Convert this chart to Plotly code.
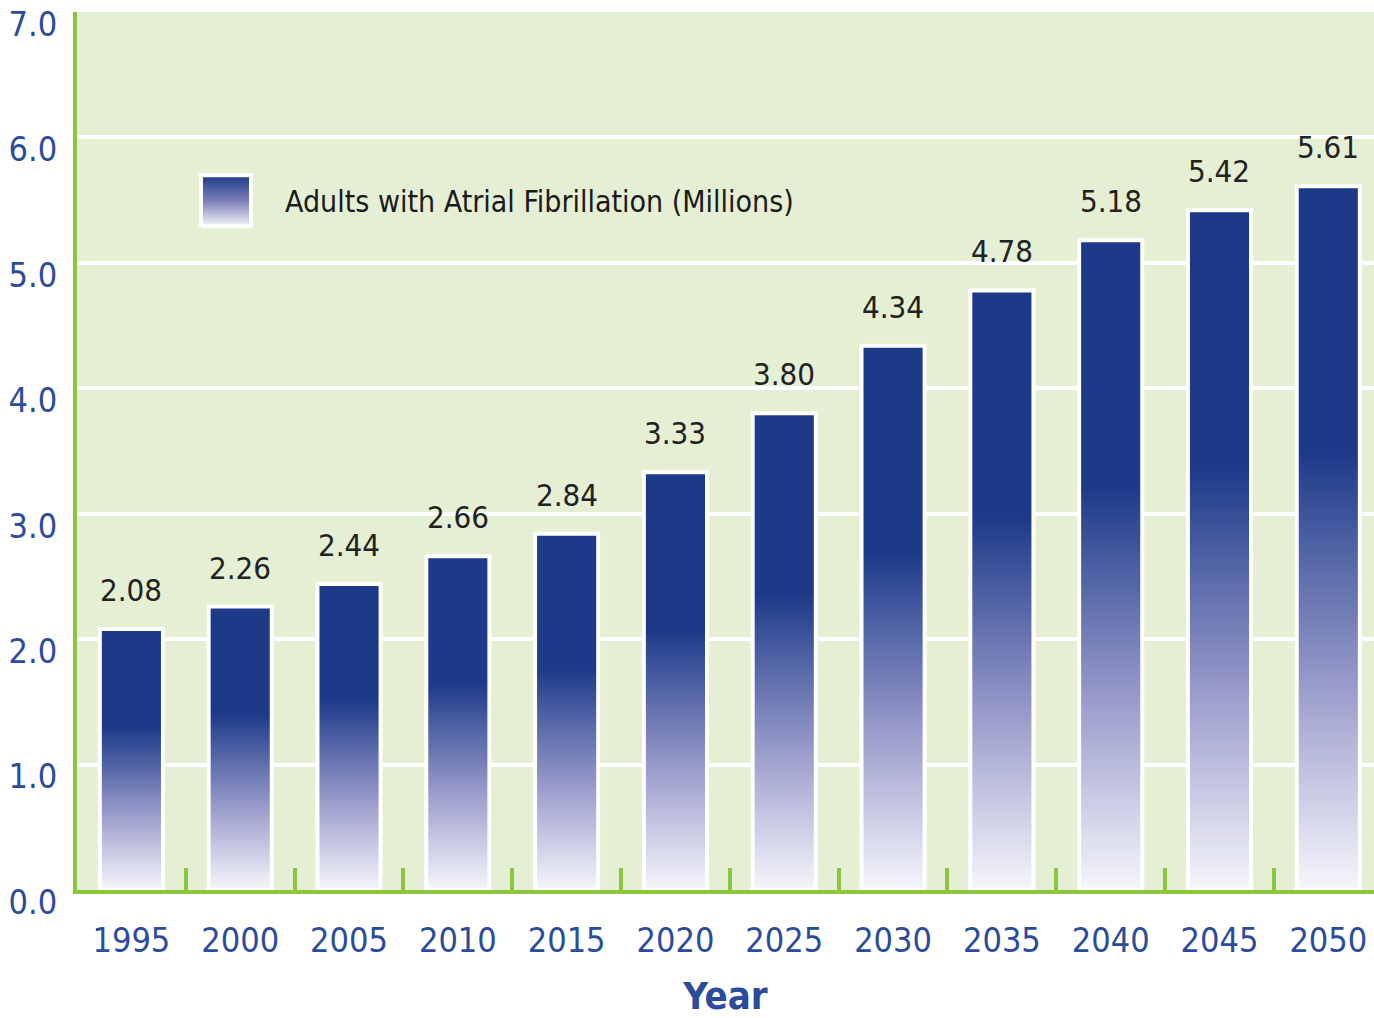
import plotly.graph_objects as go

years = ['1995', '2000', '2005', '2010', '2015', '2020', '2025', '2030', '2035', '2040', '2045', '2050']
values = [2.08, 2.26, 2.44, 2.66, 2.84, 3.33, 3.80, 4.34, 4.78, 5.18, 5.42, 5.61]
series_name = 'Adults with Atrial Fibrillation (Millions)'
y_ticks = [0, 1, 2, 3, 4, 5, 6, 7]

FONT = 'Liberation Sans Narrow, DejaVu Sans Condensed, Roboto Condensed, Arial Narrow, sans-serif'
GREEN = '#8cc63f'
BG = '#e5efd4'
BLUE_TXT = '#2b4b9c'
NAVY = '#1d3a89'
GRAD = [[0, '#f6f6fb'], [0.28, '#9d9fcd'], [0.62, NAVY], [1, NAVY]]

HALF = 0.29

fig = go.Figure()
for i, v in enumerate(values):
    fig.add_trace(go.Scatter(
        x=[i - HALF, i - HALF, i + HALF, i + HALF, i - HALF],
        y=[0, v, v, 0, 0],
        mode='lines', fill='toself',
        fillgradient=dict(type='vertical', colorscale=GRAD),
        line=dict(color='white', width=4),
        showlegend=False, hoverinfo='skip'))
    fig.add_annotation(x=i, y=v, text=f'{v:.2f}', showarrow=False,
                       yanchor='bottom', yshift=19,
                       font=dict(family=FONT, size=31, color='#222222'))

# legend swatch on a pixel-aligned overlay axis
fig.add_trace(go.Scatter(
    x=[201, 201, 251, 251, 201], y=[226, 175, 175, 226, 226],
    xaxis='x2', yaxis='y2', mode='lines', fill='toself',
    fillgradient=dict(type='vertical', colorscale=[[0, '#f6f6fb'], [0.5, '#7c80b8'], [1, NAVY]]),
    line=dict(color='white', width=4), showlegend=False, hoverinfo='skip'))
fig.add_annotation(x=283, y=201, xref='x2', yref='y2', text=series_name,
                   showarrow=False, xanchor='left', yanchor='middle',
                   font=dict(family=FONT, size=30, color='#1a1a1a'))

fig.update_layout(
    width=1374, height=1018,
    margin=dict(l=77, r=0, t=12, b=128),
    paper_bgcolor='white', plot_bgcolor=BG,
    showlegend=False,
    xaxis=dict(
        range=[-0.5, 11.42],
        tickmode='array', tickvals=list(range(len(years))), ticktext=years,
        ticks='', showgrid=False, zeroline=False,
        showline=True, linecolor=GREEN, linewidth=4,
        tickfont=dict(family=FONT, size=34, color=BLUE_TXT),
        ticklabelstandoff=17,
        minor=dict(tickmode='array', tickvals=[k + 0.5 for k in range(len(years) - 1)],
                   ticks='inside', ticklen=22, tickwidth=4, tickcolor=GREEN, showgrid=False),
        title=dict(text='Year', standoff=30,
                   font=dict(family=FONT, size=38, color=BLUE_TXT, weight='bold')),
        fixedrange=True,
    ),
    yaxis=dict(
        range=[0, 7], tickmode='array', tickvals=y_ticks,
        tickformat='.1f', ticks='', showgrid=True, gridcolor='white', gridwidth=4,
        zeroline=False, showline=True, linecolor=GREEN, linewidth=4,
        tickfont=dict(family=FONT, size=34, color=BLUE_TXT),
        ticklabelstandoff=9, ticklabelshift=12,
        fixedrange=True,
    ),
    xaxis2=dict(overlaying='x', anchor='y2', range=[77, 1374], visible=False, fixedrange=True),
    yaxis2=dict(overlaying='y', anchor='x2', range=[889, 12], visible=False, fixedrange=True),
)

fig.write_html('out.html', config={'displayModeBar': False},
               post_script="document.body.style.margin='0';")
